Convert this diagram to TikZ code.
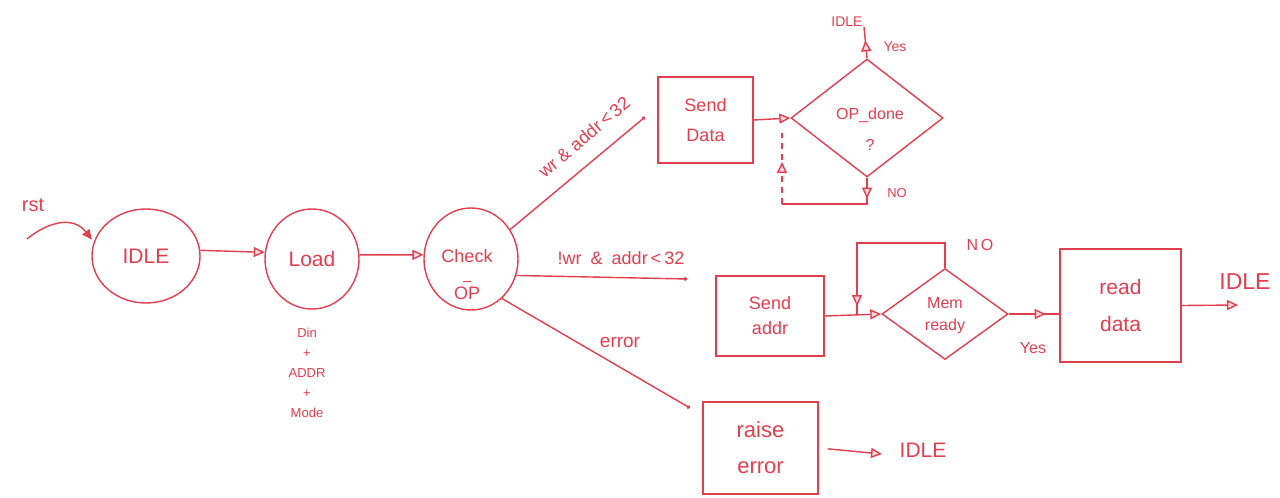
\documentclass[tikz,border=0pt]{standalone}
\usepackage{fontspec}
\setmainfont{Liberation Sans}
\usetikzlibrary{arrows.meta,shapes.geometric,decorations.markings}
\definecolor{handred}{RGB}{226,62,78}
\newcommand\hsz[2]{\fontsize{#1pt}{#2pt}\selectfont}
\tikzset{
  Htip/.tip={Triangle[length=11pt,width=10pt,fill=handred!20]},
  Hdot/.tip={Circle[length=3.5pt]},
  conn/.style={draw=handred,line width=1.4pt},
  tipat/.style={postaction={decorate},decoration={markings,mark=at position #1 with {\arrow{Htip}}}},
  st/.style={ellipse,draw=handred,line width=1.4pt,inner sep=0pt,text=handred,align=center},
  boxst/.style={rectangle,draw=handred,line width=1.4pt,inner sep=0pt,text=handred,align=center},
  dia/.style={diamond,draw=handred,line width=1.4pt,inner sep=0pt},
  lbl/.style={text=handred,inner sep=0pt,align=center},
  dsh/.style={dash pattern=on 6pt off 5pt}
}
\begin{document}
\begin{tikzpicture}[x=1pt,y=-1pt]
\useasboundingbox (0,0) rectangle (1280,498);
% states
\node[st,minimum width=108pt,minimum height=94pt,font=\hsz{21}{25}] (idle) at (146,256) {IDLE};
\node[st,minimum width=94pt,minimum height=100pt,font=\hsz{21}{25}] (load) at (312,259) {Load};
\node[st,minimum width=94pt,minimum height=102pt] (check) at (471,259) {};
\node[lbl,font=\hsz{18}{21}] (checktxt) at (467,275) {Check\\[-2pt]\rule{8pt}{1.2pt}\\[-3pt]OP};
% boxes
\node[boxst,minimum width=95pt,minimum height=86pt,font=\hsz{18}{30}] (senddata) at (705.5,120) {Send\\Data};
\node[dia,minimum width=152pt,minimum height=118pt] (opdone) at (867,118) {};
\node[lbl,font=\hsz{16}{31}] (opdonetxt) at (870,129.5) {OP\_done\\?};
\node[boxst,minimum width=108pt,minimum height=80pt,font=\hsz{18}{25}] (sendaddr) at (770,316) {Send\\addr};
\node[dia,minimum width=126pt,minimum height=91pt] (memready) at (945,314) {};
\node[lbl,font=\hsz{16}{22}] (memtxt) at (945,316) {Mem\\ready};
\node[boxst,minimum width=121pt,minimum height=113pt,font=\hsz{21}{37}] (readdata) at (1120.5,305.5) {read\\data};
\node[boxst,minimum width=115pt,minimum height=92pt,font=\hsz{22}{36}] (raiseerror) at (760.5,448) {raise\\error};
% coordinates
\coordinate (rstA) at (27,239);
\coordinate (wrend) at (645,117);
\coordinate (rdend) at (687,279);
\coordinate (errend) at (690,408);
\coordinate (ytop) at (864,27);
\coordinate (nb) at (867,204);
\coordinate (nl) at (782,204);
\coordinate (nt) at (782,133);
\coordinate (m1) at (945,243);
\coordinate (m2) at (857,243);
\coordinate (m3) at (857,314);
\coordinate (rdout) at (1238,305);
\coordinate (reout) at (882,454);
% connectors
\draw[conn,-{Triangle[length=10pt,width=9pt,fill=handred]},shorten >=3pt] (rstA) .. controls (45,224) and (72,214) .. (idle.165);
\draw[conn,-Htip] (idle.6) -- (load.172);
\draw[conn,-Htip] (load.5) -- (check.175);
\draw[conn,-Hdot] (check.37) -- (wrend);
\draw[conn,-Hdot] (check.-20) -- (rdend);
\draw[conn,-Hdot] (check.-52) -- (errend);
\draw[conn,-Htip] (senddata.east) -- (opdone.west);
\draw[conn,tipat=18pt] (opdone.north) -- (ytop);
\draw[conn,tipat=21pt] (opdone.south) -- (nb) -- (nl);
\draw[conn,dsh,tipat=42pt] (nl) -- (nt);
\draw[conn,-Htip] (sendaddr.east) -- (memready.west);
\draw[conn,tipat=176pt] (memready.north) -- (m1) -- (m2) -- (m3);
\draw[conn,tipat=37pt] (memready.east) -- (readdata.west |- memready.east);
\draw[conn,-Htip] (readdata.east) -- (rdout);
\draw[conn,-Htip,shorten <=9pt] (raiseerror.east) -- (reout);
% labels
\node[lbl,font=\hsz{20}{24}] (rstlbl) at (33,205) {rst};
\node[lbl,font=\hsz{13}{20}] (loadlbl) at (307,373) {Din\\+\\ADDR\\+\\Mode};
\node[lbl,font=\hsz{18}{22},rotate=40.3] (wrlbl) at (584,137) {wr \& addr\,<\,32};
\node[lbl,font=\hsz{18}{22}] (rdlbl) at (621,258) {!wr\enspace\&\enspace addr\,<\,32};
\node[lbl,font=\hsz{19}{22}] (errlbl) at (620,342) {error};
\node[lbl,font=\hsz{14}{16}] (idletop) at (847,22) {IDLE};
\node[lbl,font=\hsz{14}{16}] (yestop) at (895,47) {Yes};
\node[lbl,font=\hsz{13}{16}] (nobot) at (897,193) {NO};
\node[lbl,font=\hsz{16}{18}] (nomem) at (980,245) {N\,O};
\node[lbl,font=\hsz{16}{18}] (yesmem) at (1033,348) {Yes};
\node[lbl,font=\hsz{23}{26}] (idleright) at (1245,282) {IDLE};
\node[lbl,font=\hsz{21}{24}] (idlebot) at (923,450) {IDLE};
\end{tikzpicture}
\end{document}
